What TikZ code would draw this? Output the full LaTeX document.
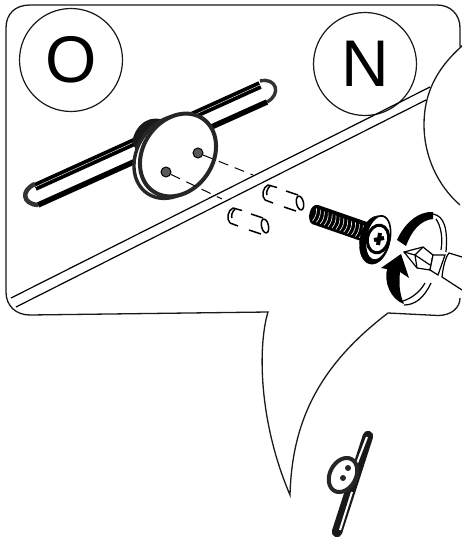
\documentclass[tikz,border=0pt]{standalone}
\usepackage{fontspec}
\setmainfont{Liberation Sans}
\usetikzlibrary{shapes.geometric}

\begin{document}
\begin{tikzpicture}[
    x=1pt, y=-1pt,
    outline/.style={draw=black!90, line width=1.3pt},
    letter/.style={circle, draw=black!90, line width=1.2pt, minimum size=103pt, inner sep=0pt,
                   font=\fontsize{66}{66}\selectfont},
    rim/.style={ellipse, draw=black!85, inner sep=0pt},
    hole/.style={circle, draw=black, fill=black!65, line width=1pt, minimum size=10pt, inner sep=0pt},
    guide/.style={draw=black, line width=1pt, dash pattern=on 10pt off 7pt},
    sleeve/.style={draw=black, line width=1.5pt},
    thread/.style={draw=white, line width=0.6pt},
    thin/.style={draw=black, line width=1.2pt}
]
\useasboundingbox (0,0) rectangle (462,540);

% Callout frame
\draw[outline] (462,46) -- (460,46) -- (460,28) .. controls (460,14) and (450,5) .. (437,5)
    -- (30,5) .. controls (15,5) and (6,14) .. (6,28) -- (6,292)
    .. controls (6,306) and (16,315) .. (30,315) -- (268,312)
    .. controls (258,345) and (258,420) .. (290,495)
    .. controls (292,420) and (320,365) .. (388,313) -- (438,315.5)
    .. controls (451,315.5) and (460,308) .. (460,298);
\draw[outline] (462,46) .. controls (435,70) and (424,95) .. (424,125)
    .. controls (424,155) and (437,185) .. (460,205);

% Letters
\node[letter] (oval) at (71,60) {O};
\node[letter] (nval) at (365,64) {N};

% Wall lines
\draw[thin] (11,298) -- (430,87);
\draw[thin] (16,307) -- (426,100);

% Rail
\draw[draw=black, line width=8pt] (35,187) -- (260,85);
\draw[draw=white, line width=0.4pt] (35,187) -- (260,85);
\draw[draw=black, line width=5.5pt] (38,205) -- (267,102);
\draw[draw=black!80, line width=4.5pt] (35,184) .. controls (21,190) and (22,204) .. (38,205);
\draw[draw=white, line width=1pt] (36,189) .. controls (30,192) and (30,198) .. (37,201);
\draw[draw=black!80, line width=3.4pt] (260,81) .. controls (276,77) and (282,94) .. (267,102);

% Hub and plate
\fill[black!90] (132,142) .. controls (136,122) and (152,114) .. (166,121) -- (150,170) -- (136,150) -- cycle;
\draw[draw=black!40, line width=0.5pt] (140,142) .. controls (143,133) and (150,127) .. (158,125);
\node[rim, fill=white, line width=3.4pt, minimum width=88pt, minimum height=70pt, rotate=56] (plateback) at (172,157) {};
\node[rim, fill=white, line width=4pt, minimum width=88pt, minimum height=70pt, rotate=56] (platefront) at (178,155) {};
\node[hole] (holeup) at (198,153) {};
\node[hole] (holedown) at (166,172) {};

% Dashes to the sleeves
\draw[guide] (holeup) -- (253,175);
\draw[guide] (holedown) -- (222,199);

% Sleeves
\foreach \dx/\dy in {0/0, -35/23} {
    \begin{scope}[shift={(\dx,\dy)}]
    \draw[sleeve] (268,185) -- (277,187.5) (286,191) -- (298,195);
    \draw[sleeve] (265,200) -- (273,203) (284,207) -- (296,211);
    \draw[sleeve] (268,185) .. controls (263,187) and (261,196) .. (265,200);
    \draw[sleeve] (270,186) .. controls (267,189) and (266,193) .. (267,195);
    \draw[sleeve, rotate around={12:(300,203)}] (300,203) ellipse (3.5 and 7);
    \end{scope}
}

% Screw
\fill[black] (318,205) -- (367,222) -- (361,241) -- (312,224)
    .. controls (306,220) and (310,203) .. (318,205);
\foreach \i in {0,...,12}
    \draw[thread] ({316.5+3.9*\i},{208.5+1.4*\i}) to[bend left=20] ({312.5+3.9*\i},{221+1.4*\i});
\node[rim, draw=black, fill=black, minimum width=49pt, minimum height=30pt, rotate=78] (headback) at (375,240) {};
\node[rim, draw=black, fill=white, line width=1.6pt, minimum width=45pt, minimum height=24pt, rotate=78] (head) at (378,238) {};
\node[rim, draw=black, line width=3pt, minimum width=28pt, minimum height=21pt, rotate=78] (ring) at (378,239) {};
\draw[draw=black, line width=4pt] (374,240) -- (384,238) (380,233) -- (378,245);

% Turning arrows
\fill[black] (397,240) .. controls (404,224) and (418,211) .. (433,212) -- (433,219)
    .. controls (420,220) and (411,232) .. (406,246) -- cycle;
\fill[black] (401,254) -- (381,268) -- (387,269) .. controls (384,282) and (390,299) .. (404,304)
    .. controls (399,293) and (399,282) .. (400,272) -- (409,278) -- cycle;
\draw[thin] (433,214) .. controls (444,216) and (448,228) .. (446,252);
\draw[thin] (436,219) .. controls (441,226) and (443,238) .. (441,250);
\draw[thin] (404,305) .. controls (415,305) and (424,298) .. (431,283);
\draw[thin] (403,301) .. controls (412,298) and (420,292) .. (425,283);

% Screwdriver
\draw[thin, fill=white] (404,252) -- (423,247) -- (433,255) -- (430,270) -- (417,268) -- cycle;
\draw[thin] (404,252) -- (415,255) -- (430,265) (415,255) -- (423,247) (415,255) -- (417,268);
\draw[thin, fill=white] (433,255) -- (430,270) -- (438,275) -- (445,255) -- cycle;
\draw[thin] (462,257) -- (449,253) .. controls (445,258) and (443,268) .. (442,277) -- (462,290);

% Small rail
\draw[draw=black!90, line width=10.5pt, line cap=round] (337,532) -- (368,436);
\draw[draw=white, line width=2pt] (340,530) -- (352,492) (357,463) -- (367,437);
\node[rim, fill=white, line width=4pt, minimum width=36pt, minimum height=26pt, rotate=62] (smallplate) at (343,475) {};
\node[circle, fill=black!85, minimum size=6pt, inner sep=0pt] (smallup) at (348,468) {};
\node[circle, fill=black!85, minimum size=6pt, inner sep=0pt] (smalldown) at (343,478) {};

\end{tikzpicture}
\end{document}
